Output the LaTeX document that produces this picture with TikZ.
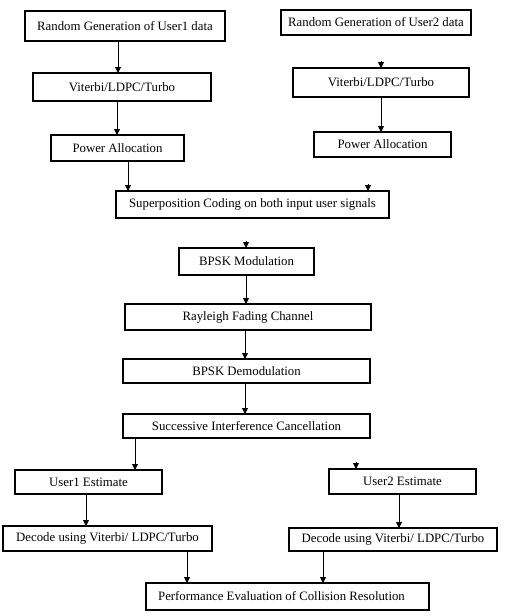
\documentclass[tikz,border=0pt]{standalone}
\usepackage{fontspec}
\setmainfont{Liberation Serif}
\usetikzlibrary{arrows.meta}
\begin{document}
\begin{tikzpicture}[x=1pt,y=-1pt,
  box/.style={draw, line width=1.5pt, inner sep=0pt, outer sep=0pt,
    font=\fontsize{12.8}{14}\selectfont},
  arr/.style={line width=0.8pt, -{Triangle[width=6pt,length=6pt]}}]
\useasboundingbox[fill=white] (0,0) rectangle (511,616);
\newcommand\bx[6]{\node[box, minimum width=#4pt, minimum height=#5pt] (#1) at (#2,#3) {#6};}
\bx{r1}{125}{26}{200}{30}{Random Generation of User1 data}
\bx{r2}{376}{22.5}{190}{25}{Random Generation of User2 data}
\bx{v1}{122}{87}{178}{28}{Viterbi/LDPC/Turbo}
\bx{v2}{381}{82.5}{176}{29}{Viterbi/LDPC/Turbo}
\bx{p1}{117.5}{148}{133}{26}{Power Allocation}
\bx{p2}{382.5}{144.5}{137}{25}{Power Allocation}
\bx{sc}{252.5}{204.5}{273}{27}{Superposition Coding on both input user signals}
\bx{bm}{246.5}{261.5}{135}{27}{BPSK Modulation}
\bx{rf}{248}{317}{246}{26}{Rayleigh Fading Channel}
\bx{bd}{246.5}{371}{247}{24}{BPSK Demodulation}
\bx{sic}{246.5}{426}{247}{24}{Successive Interference Cancellation}
\bx{u1}{88.5}{482}{147}{24}{User1 Estimate}
\bx{u2}{402.5}{481.5}{147}{25}{User2 Estimate}
\bx{d1}{107.5}{538.5}{209}{25}{Decode using Viterbi/ LDPC/Turbo}
\bx{d2}{393}{539.5}{208}{23}{Decode using Viterbi/ LDPC/Turbo}
\bx{pe}{287.5}{596.5}{283}{27}{\hspace*{-12pt}Performance Evaluation of Collision Resolution}
\draw[arr] (r1.south -| 118,0) -- (v1.north -| 118,0);
\draw[arr] (v1.south -| 117,0) -- (p1.north -| 117,0);
\draw[arr] (p1.south -| 128,0) -- (sc.north -| 128,0);
\draw[arr] ([yshift=7pt]v2.north) -- (v2.north);
\draw[arr] (v2.south -| 381,0) -- (p2.north -| 381,0);
\draw[arr] ([yshift=7pt]sc.north -| 368,0) -- (sc.north -| 368,0);
\draw[arr] ([yshift=7pt]bm.north -| 246,0) -- (bm.north -| 246,0);
\draw[arr] (bm.south -| 246,0) -- (rf.north -| 246,0);
\draw[arr] (rf.south -| 245,0) -- (bd.north -| 245,0);
\draw[arr] (bd.south -| 245,0) -- (sic.north -| 245,0);
\draw[arr] (sic.south -| 135,0) -- (u1.north -| 135,0);
\draw[arr] ([yshift=7pt]u2.north -| 356,0) -- (u2.north -| 356,0);
\draw[arr] (u1.south -| 86,0) -- (d1.north -| 86,0);
\draw[arr] (u2.south -| 399,0) -- (d2.north -| 399,0);
\draw[arr] (d1.south -| 187,0) -- (pe.north -| 187,0);
\draw[arr] (d2.south -| 323,0) -- (pe.north -| 323,0);
\end{tikzpicture}
\end{document}
